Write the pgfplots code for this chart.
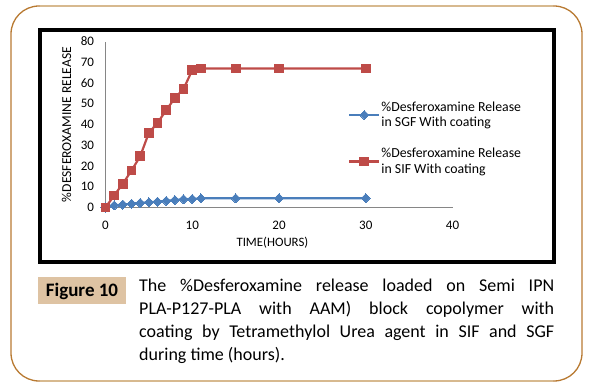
\documentclass[border=0pt]{standalone}
\usepackage{pgfplots}
\pgfplotsset{compat=1.18}
\usepackage{pgfplotstable}
\usepackage{fontspec}
\setmainfont{Carlito}
\definecolor{sgfblue}{HTML}{4A7EBB}
\definecolor{sifred}{HTML}{BE4B48}
\definecolor{framebrown}{HTML}{B87A32}
\definecolor{frametan}{HTML}{D7B98F}
\definecolor{figtan}{HTML}{DEC3A3}
\definecolor{axgray}{HTML}{868686}
\pgfplotstableread{
t  r
0  0
1  1.0
2  1.4
3  1.8
4  2.2
5  2.5
6  2.8
7  3.2
8  3.6
9  4.0
10 4.1
11 4.4
15 4.5
20 4.5
30 4.5
}\sgf
\pgfplotstableread{
t  r
0  0
1  5.8
2  11.5
3  17.8
4  24.7
5  36
6  40.8
7  46.9
8  52.8
9  57.2
10 66.2
11 67
15 67
20 67
30 67
}\sif
\begin{document}
\begin{tikzpicture}
\useasboundingbox (0,0) rectangle (600pt,-390pt);
% outer rounded frame
\draw[framebrown, line width=1.3pt, rounded corners=28pt] (11pt,-6pt) rectangle (582pt,-381pt);
\draw[frametan, line width=2pt] (40pt,-6pt) -- (553pt,-6pt);
\draw[frametan, line width=2pt] (40pt,-381pt) -- (553pt,-381pt);
% chart frame
\draw[black, line width=4pt] (40.3pt,-30.3pt) rectangle (554pt,-261.7pt);
\begin{axis}[
  at={(105.5pt,-207.5pt)}, anchor=south west,
  scale only axis, width=347pt, height=166pt,
  xmin=0, xmax=40, ymin=0, ymax=80,
  xtick={0,10,20,30,40}, ytick={0,10,...,80},
  axis x line*=bottom, axis y line*=left,
  axis line style={draw=axgray, line width=0.8pt, -},
  major tick length=0pt,
  clip=false,
  /pgf/number format/assume math mode=true,
  tick label style={font=\fontsize{13}{15}\selectfont},
  yticklabel style={xshift=-8pt},
  xticklabel style={yshift=-10pt},
  xlabel={TIME(HOURS)},
  ylabel={\%DESFEROXAMINE RELEASE},
  xlabel style={at={(axis description cs:0.481,-0.215)}, anchor=center, font=\fontsize{12.8}{14}\selectfont},
  ylabel style={at={(axis description cs:-0.112,0.5)}, anchor=center, font=\fontsize{13.6}{15}\selectfont},
  legend style={at={(axis description cs:0.699,0.645)}, anchor=north west, draw=none, fill=none, inner sep=0pt,
    font=\fontsize{13.8}{15.5}\selectfont, nodes={align=left, inner sep=1pt}, row sep=18pt},
  legend cell align=left,
  legend image code/.code={\draw[mark repeat=2,mark phase=2,#1] plot coordinates {(0pt,0pt) (15pt,0pt) (30pt,0pt)};},
]
\addplot[color=sgfblue, line width=2.2pt, mark=square*, mark size=3.2pt, mark options={rotate=45, line width=0pt, fill=sgfblue}] table[x=t,y=r] {\sgf};
\addlegendentry{\%Desferoxamine Release\\in SGF With coating}
\addplot[color=sifred, line width=2.2pt, mark=square*, mark size=4.4pt, mark options={line width=0pt, fill=sifred}] table[x=t,y=r] {\sif};
\addlegendentry{\%Desferoxamine Release\\in SIF With coating}
\end{axis}
% caption
\fill[figtan] (38pt,-277pt) rectangle (126pt,-304pt);
\node[anchor=base, inner sep=0pt, font=\fontsize{19}{22}\selectfont\bfseries] at (82pt,-296.5pt) {Figure 10};
\node[anchor=base west, inner sep=0pt] at (139pt,-291pt) {\parbox[t]{415pt}{\fontsize{18}{23.3}\selectfont\hyphenpenalty=10000\tolerance=10000\emergencystretch=20pt
The \%Desferoxamine release loaded on Semi IPN\linebreak
PLA-P127-PLA with AAM) block copolymer with\linebreak
coating by Tetramethylol Urea agent in SIF and SGF\linebreak
during time (hours).}};
\end{tikzpicture}
\end{document}
